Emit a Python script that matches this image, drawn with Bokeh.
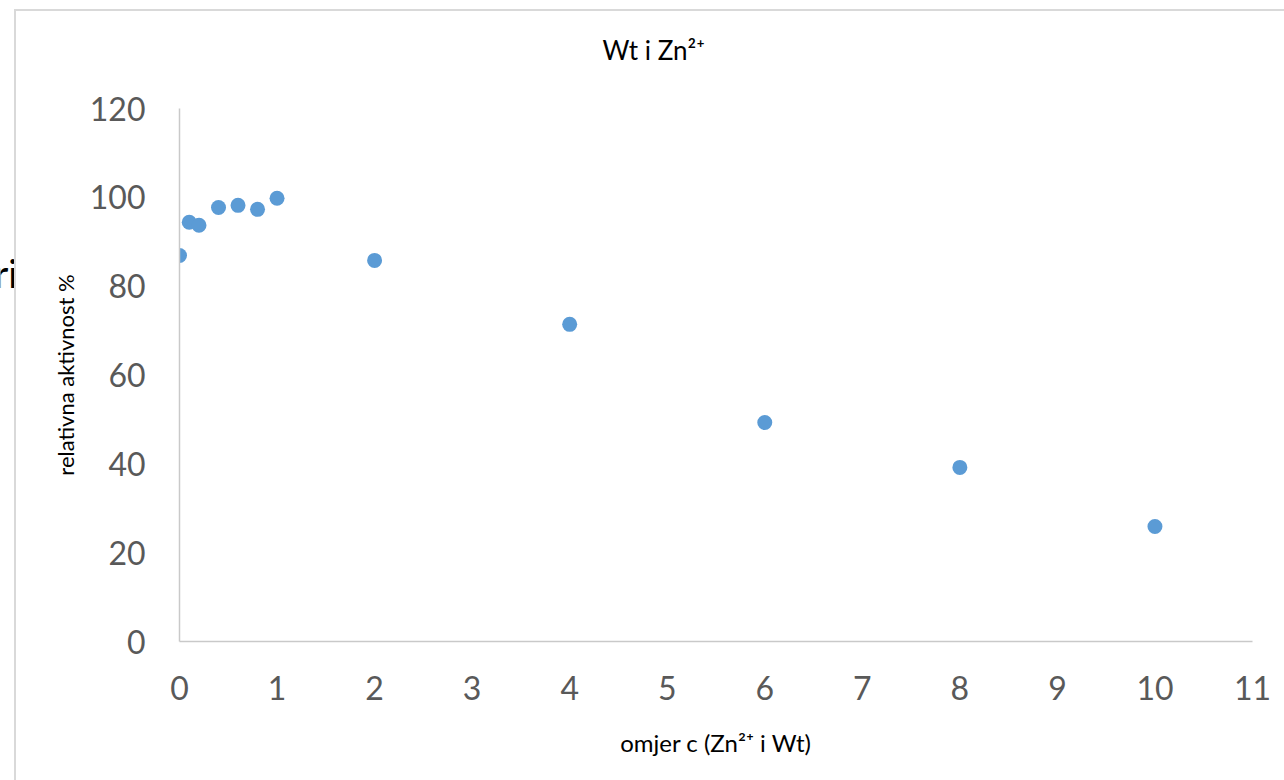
from bokeh.plotting import figure
from bokeh.models import Range1d, FixedTicker, Label, Title
from bokeh.layouts import row
from bokeh.embed import file_html
from bokeh.resources import INLINE

# data
ratio = [0, 0.1, 0.2, 0.4, 0.6, 0.8, 1, 2, 4, 6, 8, 10]
activity = [86.9, 94.4, 93.7, 97.7, 98.2, 97.3, 99.8, 85.8, 71.4, 49.3, 39.2, 25.9]
x_ticks = list(range(0, 12))
y_ticks = [0, 20, 40, 60, 80, 100, 120]

title_text = "Wt i Zn\u00b2\u207a"
x_label = "omjer c (Zn\u00b2\u207a i Wt)"
y_label = "relativna aktivnost %"
stray_text = "ri"

FONT = "Lato"

# narrow strip left of the chart box, holding the cut-off text fragment
side = figure(width=14, height=780, output_backend="svg", toolbar_location=None,
              min_border=0, x_axis_type=None, y_axis_type=None)
side.outline_line_color = None
side.grid.grid_line_color = None
side.add_layout(Label(x=-6, y=369, x_units="screen", y_units="screen", text=stray_text,
                      text_font=FONT, text_font_size="38px", text_color="#000000",
                      text_align="left", text_baseline="alphabetic"))

p = figure(width=1270, height=780, output_backend="svg", toolbar_location=None,
           x_range=Range1d(0, 11), y_range=Range1d(0, 120),
           min_border_left=165, min_border_right=32, min_border_top=108, min_border_bottom=139)
p.outline_line_color = None
p.grid.grid_line_color = None
# transparent canvas so the host's CSS border lines (outer chart box) show through
p.border_fill_color = None
p.background_fill_color = None
p.styles = {
    "background-color": "#ffffff",
    "background-image": "linear-gradient(#d9d9d9, #d9d9d9), linear-gradient(#d9d9d9, #d9d9d9)",
    "background-size": "2px 100%, 100% 2px",
    "background-position": "0px 9px, 0px 9px",
    "background-repeat": "no-repeat, no-repeat",
}

p.title.text = title_text
p.title.text_font = FONT
p.title.text_font_size = "26px"
p.title.text_font_style = "normal"
p.title.text_color = "#000000"
p.title.align = "left"
p.title.offset = 423
p.title.standoff = 20
# blank spacer between the plot area and the title
p.add_layout(Title(text=" ", text_font=FONT, text_font_size="10px", standoff=19), "above")

for ax in (p.xaxis[0], p.yaxis[0]):
    ax.axis_line_color = "#c9c9c9"
    ax.axis_line_width = 1.5
    ax.major_tick_line_color = None
    ax.minor_tick_line_color = None
    ax.major_label_text_font = FONT
    ax.major_label_text_font_size = "32px"
    ax.major_label_text_color = "#595959"
    ax.axis_label_text_font = FONT
    ax.axis_label_text_font_style = "normal"
    ax.axis_label_text_color = "#000000"

p.xaxis.ticker = FixedTicker(ticks=x_ticks)
p.yaxis.ticker = FixedTicker(ticks=y_ticks)
p.xaxis.major_label_standoff = 28
p.yaxis.major_label_standoff = 28
p.xaxis.axis_label = x_label
p.yaxis.axis_label = y_label
p.xaxis.axis_label_text_font_size = "24px"
p.yaxis.axis_label_text_font_size = "22px"
p.xaxis.axis_label_standoff = 25
p.yaxis.axis_label_standoff = 8

p.scatter(ratio, activity, size=15, color="#5b9bd5", line_color=None)

layout = row(side, p, spacing=0)
open("out.html", "w").write(file_html(layout, INLINE))
